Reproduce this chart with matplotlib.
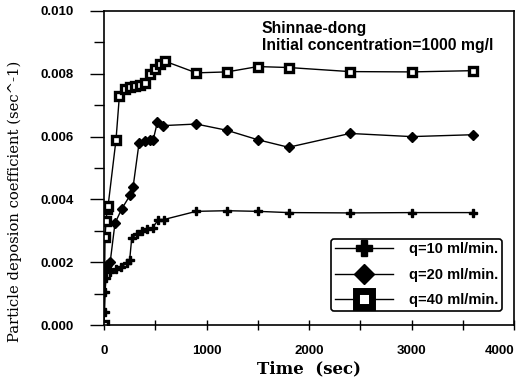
import matplotlib
matplotlib.use("Agg")
import matplotlib.pyplot as plt
from matplotlib.ticker import MultipleLocator, FormatStrFormatter

# ---- data ----
t_q10 = [0, 5, 10, 20, 30, 60, 120, 170, 220, 250, 270, 320, 370, 420, 475,
         530, 585, 900, 1200, 1500, 1800, 2400, 3000, 3600]
k_q10 = [0.0, 0.0004, 0.00105, 0.0015, 0.0018, 0.0017, 0.00178, 0.00185,
         0.00197, 0.00206, 0.00276, 0.0029, 0.0030, 0.00305, 0.0031, 0.00336,
         0.00336, 0.00362, 0.00364, 0.00362, 0.00358, 0.00357, 0.00358, 0.00358]

t_q20 = [0, 10, 30, 60, 107, 173, 254, 283, 342, 400, 450, 480, 520, 576,
         900, 1200, 1500, 1800, 2400, 3000, 3600]
k_q20 = [0.0, 0.0018, 0.0019, 0.0020, 0.00324, 0.0037, 0.00413, 0.00438,
         0.0058, 0.00587, 0.0059, 0.0059, 0.00645, 0.00635, 0.0064, 0.0062,
         0.0059, 0.00566, 0.0061, 0.0060, 0.00606]

t_q40 = [0, 10, 20, 30, 40, 117, 150, 205, 254, 302, 350, 400, 450, 500, 546,
         595, 900, 1200, 1500, 1800, 2400, 3000, 3600]
k_q40 = [0.0, 0.0028, 0.0033, 0.0037, 0.0038, 0.0059, 0.0073, 0.00752,
         0.00757, 0.00762, 0.00765, 0.00772, 0.0080, 0.00816, 0.0083, 0.0084,
         0.00803, 0.00806, 0.00823, 0.0082, 0.00807, 0.00806, 0.0081]

x_ticks = [0, 1000, 2000, 3000, 4000]
labels = ["q=10 ml/min.", "q=20 ml/min.", "q=40 ml/min."]
annot_lines = ["Shinnae-dong", "Initial concentration=1000 mg/l"]
x_label = "Time  (sec)"
y_label = "Particle deposion coefficient (sec^-1)"

# ---- figure ----
fig = plt.figure(figsize=(5.24, 3.83), dpi=100)
ax = fig.add_axes([0.1985, 0.1514, 0.7825, 0.8199])

sans = "Liberation Sans"
serif = "DejaVu Serif"

ax.plot(t_q10, k_q10, color="black", lw=1.0, marker="P", ms=6,
        mfc="black", mec="black", label=labels[0])
ax.plot(t_q20, k_q20, color="black", lw=1.0, marker="D", ms=5,
        mfc="black", mec="black", label=labels[1])
ax.plot(t_q40, k_q40, color="black", lw=1.0, marker="s", ms=6,
        mfc="white", mec="black", mew=2.4, label=labels[2])

ax.set_xlim(0, 4000)
ax.set_ylim(0, 0.010)
ax.set_xticks(x_ticks)
ax.xaxis.set_minor_locator(MultipleLocator(500))
ax.yaxis.set_major_locator(MultipleLocator(0.002))
ax.yaxis.set_minor_locator(MultipleLocator(0.001))
ax.yaxis.set_major_formatter(FormatStrFormatter("%.3f"))

ax.tick_params(axis="y", which="major", direction="out", length=10, width=1.0, pad=12)
ax.tick_params(axis="y", which="minor", direction="out", length=7, width=1.0)
ax.tick_params(axis="x", which="major", direction="inout", length=7, width=1.0, pad=11)
ax.tick_params(axis="x", which="minor", direction="inout", length=7, width=1.0)
for lab in ax.get_xticklabels() + ax.get_yticklabels():
    lab.set_fontfamily(sans)
    lab.set_fontweight("bold")
    lab.set_fontsize(9.5)

for s in ax.spines.values():
    s.set_linewidth(1.2)

ax.set_xlabel(x_label, fontfamily=serif, fontsize=12, fontweight="bold", labelpad=2)
ax.set_ylabel(y_label, fontfamily=serif, fontsize=10.6, labelpad=6)
ax.yaxis.set_label_coords(-0.2, 0.395)

ax.text(0.385, 0.968, annot_lines[0], transform=ax.transAxes, ha="left", va="top",
        fontfamily=sans, fontweight="bold", fontsize=11.3)
ax.text(0.385, 0.914, annot_lines[1], transform=ax.transAxes, ha="left", va="top",
        fontfamily=sans, fontweight="bold", fontsize=11.3)

leg = ax.legend(loc="lower right", bbox_to_anchor=(0.971, 0.045), borderaxespad=0,
                frameon=True, fancybox=True, edgecolor="black", framealpha=1,
                handlelength=4.0, markerscale=2.0, labelspacing=0.78,
                handletextpad=1.1, borderpad=0.25,
                prop={"family": sans, "weight": "bold", "size": 10.5})
leg.get_frame().set_linewidth(1.2)
for h in leg.legend_handles:
    if h.get_marker() == "s":
        h.set_markeredgewidth(5.0)

# keep the last x tick label inside the figure, flush with the right edge
fig.canvas.draw()
for lab in ax.get_xticklabels():
    if lab.get_text() == "4000":
        lab.set_horizontalalignment("right")

fig.savefig("out.png", dpi=100)
